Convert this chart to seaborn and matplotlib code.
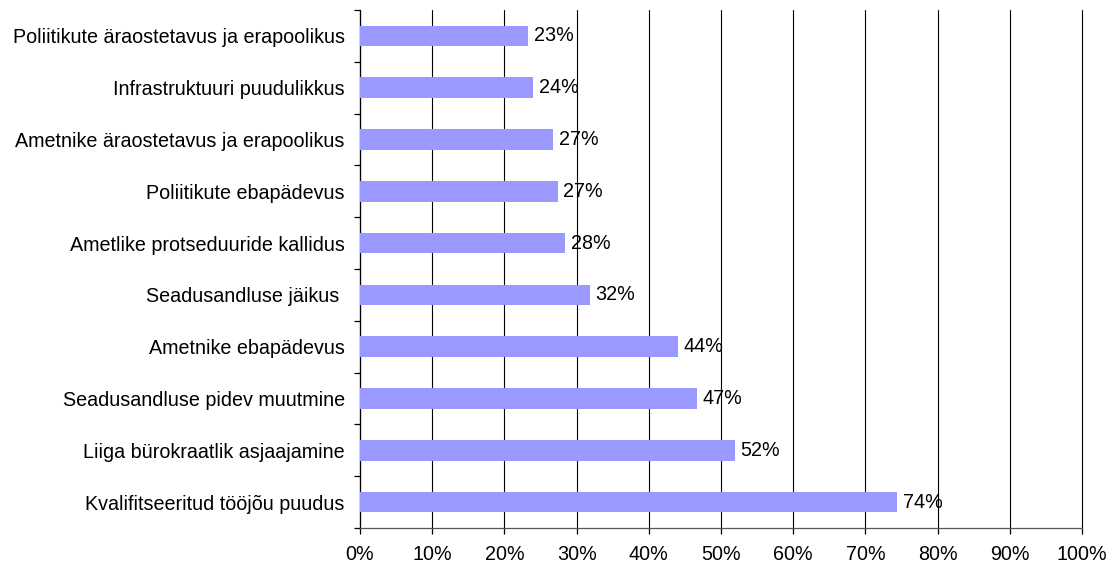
import numpy as np
import pandas as pd
import matplotlib
matplotlib.use("Agg")
import matplotlib.pyplot as plt
import seaborn as sns
from matplotlib.ticker import FixedLocator, PercentFormatter

# data (share of respondents, %)
categories = [
    "Poliitikute äraostetavus ja erapoolikus",
    "Infrastruktuuri puudulikkus",
    "Ametnike äraostetavus ja erapoolikus",
    "Poliitikute ebapädevus",
    "Ametlike protseduuride kallidus",
    "Seadusandluse jäikus ",
    "Ametnike ebapädevus",
    "Seadusandluse pidev muutmine",
    "Liiga bürokraatlik asjaajamine",
    "Kvalifitseeritud tööjõu puudus",
]
values = [23.3, 24.0, 26.8, 27.4, 28.4, 31.8, 44.1, 46.7, 51.9, 74.4]
x_ticks = list(range(0, 101, 10))

df = pd.DataFrame({"problem": categories, "share": values})

sns.set_style("white")
plt.rcParams["font.family"] = ["Liberation Sans", "DejaVu Sans"]
fs = 14.2

fig = plt.figure(figsize=(11.09, 5.67), dpi=100)
ax = fig.add_axes([0.3246, 0.0688, 0.9757 - 0.3246, 0.9824 - 0.0688])

sns.barplot(data=df, x="share", y="problem", orient="h", color="#9999FF",
            width=0.4, saturation=1, linewidth=0, edgecolor="none", ax=ax, zorder=3)

ax.set_xlim(0, 100)
ax.set_ylim(len(categories) - 0.5, -0.5)
ax.set_xticks(x_ticks)
ax.xaxis.set_major_formatter(PercentFormatter(decimals=0))
ax.set_xlabel("")
ax.set_ylabel("")

# vertical gridlines (the 100% one sits on the edge, so don't clip)
ax.grid(axis="x", color="black", linewidth=0.8, zorder=0)
ax.set_axisbelow(True)
for gl in ax.get_xgridlines():
    gl.set_clip_on(False)

for s in ["top", "right"]:
    ax.spines[s].set_visible(False)
ax.spines["left"].set_color("black")
ax.spines["bottom"].set_color("#555555")
ax.spines["left"].set_linewidth(0.9)
ax.spines["bottom"].set_linewidth(0.9)

# ticks on category boundaries
ax.yaxis.set_minor_locator(FixedLocator(np.arange(-0.5, len(categories), 1.0)))
ax.tick_params(axis="y", which="major", length=0, pad=11, labelsize=fs, colors="black")
ax.tick_params(axis="y", which="minor", length=4, width=0.9, color="black", left=True)
ax.tick_params(axis="x", which="major", length=4, width=0.9, color="black",
               bottom=True, pad=8, labelsize=fs, labelcolor="black")

# value labels
for i, v in enumerate(values):
    ax.annotate(f"{round(v):d}%", xy=(v, i), xytext=(4, 0), textcoords="offset points",
                va="center", ha="left", fontsize=fs, color="black")

fig.savefig("out.png", dpi=100)
